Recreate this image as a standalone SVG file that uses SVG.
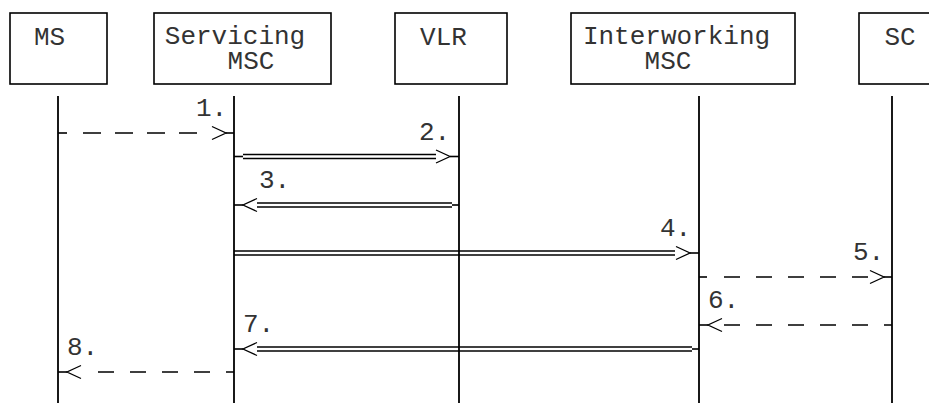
<svg xmlns="http://www.w3.org/2000/svg" xmlns:xlink="http://www.w3.org/1999/xlink" width="929" height="403" viewBox="0 0 929 403">
  <style>
    .box { fill: #fff; stroke: #000; stroke-width: 1.6; }
    .life { stroke: #000; stroke-width: 1.8; fill: none; }
    .ln { stroke: #000; stroke-width: 1.6; fill: none; }
    .dash16 { stroke: #000; stroke-width: 1.6; fill: none; stroke-dasharray: 16 16; }
    .dash18 { stroke: #000; stroke-width: 1.6; fill: none; stroke-dasharray: 18 14; }
    .chev { stroke: #000; stroke-width: 1.3; fill: none; }
    text { font-family: "Liberation Mono", "Courier New", monospace; font-size: 26px; fill: #333; }
    .c { text-anchor: middle; }
  </style>
  <defs>
    <path id="chevR" class="chev" d="M-14,-6.5 L0,0 L-14,6.5"/>
    <path id="chevL" class="chev" d="M14,-6.5 L0,0 L14,6.5"/>
  </defs>
  <rect width="929" height="403" fill="#fff"/>

  <g id="node-ms">
    <rect class="box" x="10" y="13" width="97" height="71"/>
    <text class="c" x="49.5" y="45">MS</text>
    <line class="life" x1="58" y1="96" x2="58" y2="403"/>
  </g>
  <g id="node-servicing-msc">
    <rect class="box" x="154" y="13" width="177" height="71"/>
    <text class="c" x="235" y="44">Servicing</text>
    <text class="c" x="251" y="69">MSC</text>
    <line class="life" x1="234" y1="96" x2="234" y2="403"/>
  </g>
  <g id="node-vlr">
    <rect class="box" x="395" y="13" width="112" height="71"/>
    <text class="c" x="443.5" y="45">VLR</text>
    <line class="life" x1="459" y1="96" x2="459" y2="403"/>
  </g>
  <g id="node-interworking-msc">
    <rect class="box" x="571" y="13" width="224" height="71"/>
    <text class="c" x="676.5" y="44">Interworking</text>
    <text class="c" x="668" y="69">MSC</text>
    <line class="life" x1="699" y1="96" x2="699" y2="403"/>
  </g>
  <g id="node-sc">
    <rect class="box" x="859" y="13" width="100" height="71"/>
    <text class="c" x="900" y="45">SC</text>
    <line class="life" x1="892" y1="96" x2="892" y2="403"/>
  </g>

  <g id="connectors">
    <g id="msg1">
      <line class="ln" x1="58" y1="133" x2="67" y2="133"/>
      <line class="dash18" x1="83" y1="133" x2="197" y2="133"/>
      <use xlink:href="#chevR" x="226" y="133"/>
      <line class="ln" x1="226" y1="133" x2="234" y2="133"/>
      <text x="196" y="116">1.</text>
    </g>
    <g id="msg2">
      <line class="ln" x1="234" y1="156.5" x2="243" y2="156.5"/>
      <line class="ln" x1="243" y1="154.5" x2="436" y2="154.5"/>
      <line class="ln" x1="243" y1="158.5" x2="436" y2="158.5"/>
      <use xlink:href="#chevR" x="450" y="156.5"/>
      <line class="ln" x1="450" y1="156.5" x2="459" y2="156.5"/>
      <text x="419" y="140">2.</text>
    </g>
    <g id="msg3">
      <line class="ln" x1="234" y1="205" x2="243" y2="205"/>
      <use xlink:href="#chevL" x="243" y="205"/>
      <line class="ln" x1="257" y1="203" x2="452" y2="203"/>
      <line class="ln" x1="257" y1="207" x2="452" y2="207"/>
      <line class="ln" x1="452" y1="205" x2="459" y2="205"/>
      <text x="259" y="188">3.</text>
    </g>
    <g id="msg4">
      <line class="ln" x1="234" y1="251" x2="675" y2="251"/>
      <line class="ln" x1="234" y1="255" x2="675" y2="255"/>
      <use xlink:href="#chevR" x="690" y="253"/>
      <line class="ln" x1="690" y1="253" x2="699" y2="253"/>
      <text x="660" y="236">4.</text>
    </g>
    <g id="msg5">
      <line class="ln" x1="699" y1="277" x2="707" y2="277"/>
      <line class="dash16" x1="724" y1="277" x2="868" y2="277"/>
      <use xlink:href="#chevR" x="884" y="277"/>
      <line class="ln" x1="884" y1="277" x2="892" y2="277"/>
      <text x="853" y="260">5.</text>
    </g>
    <g id="msg6">
      <line class="ln" x1="699" y1="325" x2="708" y2="325"/>
      <use xlink:href="#chevL" x="708" y="325"/>
      <line class="dash16" x1="724" y1="325" x2="892" y2="325"/>
      <text x="708" y="308">6.</text>
    </g>
    <g id="msg7">
      <line class="ln" x1="234" y1="349" x2="243" y2="349"/>
      <use xlink:href="#chevL" x="243" y="349"/>
      <line class="ln" x1="257" y1="347" x2="692" y2="347"/>
      <line class="ln" x1="257" y1="351" x2="692" y2="351"/>
      <line class="ln" x1="692" y1="349" x2="699" y2="349"/>
      <text x="243" y="332">7.</text>
    </g>
    <g id="msg8">
      <line class="ln" x1="58" y1="372" x2="67" y2="372"/>
      <use xlink:href="#chevL" x="67" y="372"/>
      <line class="dash16" x1="98" y1="372" x2="234" y2="372"/>
      <text x="67" y="355">8.</text>
    </g>
  </g>
</svg>
